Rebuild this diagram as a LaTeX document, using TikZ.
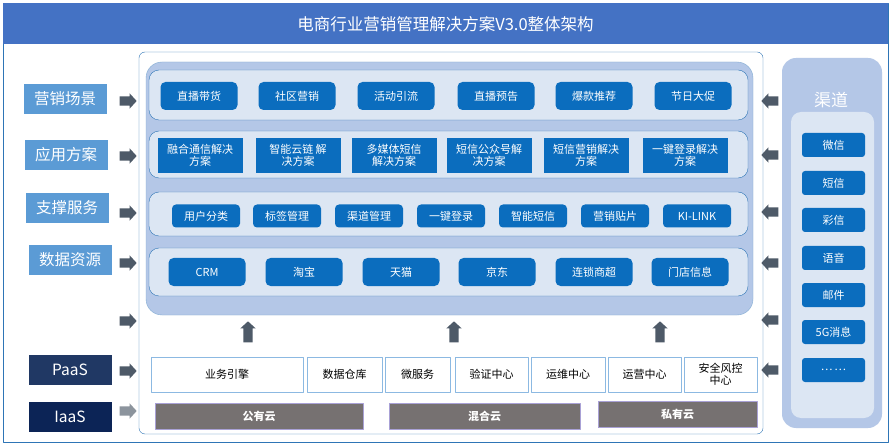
\documentclass[tikz,border=0pt]{standalone}
\usepackage{fontspec}
\setmainfont{Noto Sans CJK SC}
\usetikzlibrary{shapes.arrows}
\definecolor{titleblue}{HTML}{4472C4}
\definecolor{frameblue}{HTML}{2E75B6}
\definecolor{itemblue}{HTML}{0B6DBE}
\definecolor{labelblue}{HTML}{5B9BD5}
\definecolor{panelblue}{HTML}{B4C7E7}
\definecolor{rowblue}{HTML}{DCE6F3}
\definecolor{paasblue}{HTML}{203864}
\definecolor{iaasblue}{HTML}{0C2456}
\definecolor{arrowgray}{HTML}{4E5A68}
\definecolor{cloudgray}{HTML}{767171}
\definecolor{cloudline}{HTML}{A9A1D6}
\begin{document}
\begin{tikzpicture}[x=1pt, y=-1pt, line join=round,
	item/.style={fill=itemblue, text=white, rounded corners=5pt, minimum height=28pt, minimum width=77pt, font=\fontsize{11}{12}\selectfont, inner sep=1pt},
	solution/.style={fill=itemblue, text=white, minimum height=35pt, minimum width=85pt, align=center, font=\fontsize{11}{12}\selectfont, inner sep=1pt},
	service/.style={fill=itemblue, text=white, rounded corners=4pt, minimum height=23pt, minimum width=68pt, font=\fontsize{11}{12}\selectfont, inner sep=1pt},
	channel/.style={fill=itemblue, text=white, rounded corners=3pt, minimum height=24pt, minimum width=63pt, font=\fontsize{11}{12}\selectfont, inner sep=1pt},
	layer/.style={fill=labelblue, text=white, minimum height=30pt, minimum width=83pt, font=\fontsize{15.5}{16}\selectfont, inner sep=1pt},
	paas/.style={draw=labelblue!70, fill=white, minimum height=35pt, font=\fontsize{11}{12}\selectfont, align=center, inner sep=1pt},
	cloud/.style={draw=cloudline, fill=cloudgray, text=white, minimum height=26pt, font=\bfseries\fontsize{11}{12}\selectfont, inner sep=1pt},
	flow/.style={single arrow, fill=arrowgray, inner sep=4.5pt, minimum height=17pt, single arrow head extend=3pt, single arrow tip angle=95},
	rowpanel/.style={draw=frameblue, fill=rowblue, rounded corners=10pt}]
\useasboundingbox (0,0) rectangle (891,446);
% frame and title
\draw[frameblue, fill=white] (3,3) rectangle (888,442);
\fill[titleblue] (3,3) rectangle (888,44);
\node[text=white, font=\fontsize{16.5}{18}\selectfont] (title) at (445.5,24) {电商行业营销管理解决方案V3.0整体架构};
\draw[frameblue, fill=white, rounded corners=6pt] (139,52) rectangle (763,434);
\fill[panelblue, rounded corners=16pt] (146,62) rectangle (753,315);
\draw[frameblue!60, rounded corners=16pt] (146,62) rectangle (753,315);
\draw[rowpanel] (149,70) rectangle (748,120);
\draw[rowpanel] (149,131) rectangle (748,178);
\draw[rowpanel] (149,192) rectangle (748,236);
\draw[rowpanel] (149,248) rectangle (748,296);
% layers
\node[layer] (l1) at (65,99) {营销场景};
\node[layer] (l2) at (66,155) {应用方案};
\node[layer] (l3) at (67,208) {支撑服务};
\node[layer] (l4) at (70,260) {数据资源};
\node[layer, fill=paasblue] (l5) at (70,370) {PaaS};
\node[layer, fill=iaasblue] (l6) at (70,417) {IaaS};
% rows
\foreach \x/\t [count=\i] in {199/直播带货, 297/社区营销, 396/活动引流, 496/直播预告, 594/爆款推荐, 693/节日大促}
	\node[item] (s\i) at (\x,96) {\t};
\foreach \x/\t [count=\i] in {200/{融合通信解决\\方案}, 298/{智能云链 解\\决方案}, 394/{多媒体短信\\解决方案}, 489/{短信公众号解\\决方案}, 586/{短信营销解决\\方案}, 685/{一键登录解决\\方案}}
	\node[solution] (a\i) at (\x,155.5) {\t};
\foreach \x/\t [count=\i] in {206/用户分类, 287/标签管理, 369/渠道管理, 451/一键登录, 533/智能短信, 615/营销贴片, 697/KI-LINK}
	\node[service] (v\i) at (\x,216) {\t};
\foreach \x/\t [count=\i] in {207/CRM, 304/淘宝, 401/天猫, 497/京东, 594/连锁商超, 690/门店信息}
	\node[item] (d\i) at (\x,272) {\t};
% paas and iaas
\node[paas, minimum width=152pt] (p1) at (227,374.5) {业务引擎};
\node[paas, minimum width=75pt] (p2) at (344.5,374.5) {数据仓库};
\node[paas, minimum width=65pt] (p3) at (417.5,374.5) {微服务};
\node[paas, minimum width=73pt] (p4) at (491.5,374.5) {验证中心};
\node[paas, minimum width=74pt] (p5) at (568,374.5) {运维中心};
\node[paas, minimum width=73pt] (p6) at (644.5,374.5) {运营中心};
\node[paas, minimum width=73pt] (p7) at (720.5,374.5) {安全风控\\中心};
\node[cloud, minimum width=208pt] (c1) at (259,416) {公有云};
\node[cloud, minimum width=191pt] (c2) at (484.5,416) {混合云};
\node[cloud, minimum width=159pt] (c3) at (677.5,414.5) {私有云};
% channels
\fill[panelblue, rounded corners=14pt] (782,58) rectangle (882,428);
\fill[rowblue, rounded corners=10pt] (791,112) rectangle (874,418);
\node[text=white, font=\fontsize{17}{18}\selectfont] (qd) at (831,100) {渠道};
\foreach \y/\t [count=\i] in {145/微信, 183/短信, 220/彩信, 258/语音, 295/邮件, 332/5G消息, 370/…\,…}
	\node[channel] (ch\i) at (833.5,\y) {\t};
% arrows
\foreach \y [count=\i] in {101,156,213,263,321,371}
	\node[flow] (in\i) at (126,\y) {};
\node[flow, fill=arrowgray!65] (in7) at (126,411) {};
\foreach \y [count=\i] in {101,155,212,263,320,370}
	\node[flow, shape border rotate=180] (out\i) at (772,\y) {};
\foreach \x [count=\i] in {248,454,660}
	\node[flow, shape border rotate=90, minimum height=21pt] (up\i) at (\x,334) {};
\end{tikzpicture}
\end{document}
